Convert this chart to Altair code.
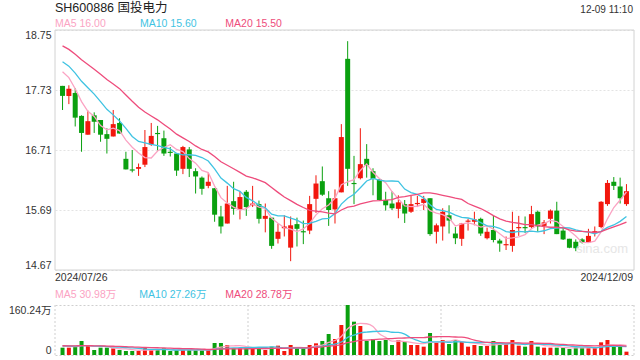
import altair as alt
import pandas as pd

FONT = "Liberation Sans, Noto Sans CJK SC, sans-serif"
RED = "#f2170d"
GREEN = "#0aa00f"
C_MA5 = "#fba3c3"
C_MA10 = "#3fc3e2"
C_MA20 = "#ee4c7c"

title_text = "SH600886 国投电力"
time_text = "12-09 11:10"
date_labels = ["2024/07/26", "2024/12/09"]
price_legend = ["MA5 16.00", "MA10 15.60", "MA20 15.50"]
vol_legend = ["MA5 30.98万", "MA10 27.26万", "MA20 28.78万"]
price_ticks = [14.67, 15.69, 16.71, 17.73, 18.75]
vol_ticks = [0, 160.24]

opens = [17.80, 17.63, 17.68, 17.29, 16.97, 17.30, 17.22, 16.98, 16.94, 17.17,
         16.56, 16.38, 16.39, 16.46, 16.80, 17.00, 16.91, 16.68, 16.65, 16.39,
         16.72, 16.35, 16.24, 16.10, 16.06, 15.58, 15.46, 15.84, 15.70, 16.00,
         15.77, 15.79, 15.54, 15.56, 15.20, 15.38, 15.05, 15.45, 15.33, 15.34,
         15.88, 16.18, 15.89, 15.70, 15.99, 18.26, 16.15, 16.23, 16.56, 16.35,
         16.21, 15.86, 15.80, 15.71, 15.79, 15.66, 15.79, 15.81, 15.89, 15.32,
         15.41, 15.60, 15.29, 15.20, 15.49, 15.49, 15.54, 15.21, 15.35, 15.17,
         15.09, 15.08, 15.38, 15.40, 15.40, 15.66, 15.42, 15.54, 15.68, 15.34,
         15.20, 15.15, 15.19, 15.14, 15.31, 15.40, 15.79, 16.17, 16.09, 15.79]
highs = [17.80, 17.81, 17.76, 17.30, 17.38, 17.35, 17.22, 17.08, 17.39, 17.25,
         16.68, 16.71, 16.48, 17.05, 17.17, 17.12, 17.04, 16.76, 16.66, 16.78,
         16.76, 16.40, 16.26, 16.32, 16.06, 15.76, 16.10, 16.17, 16.01, 16.03,
         16.10, 15.85, 15.80, 15.56, 15.46, 15.60, 15.58, 15.56, 15.51, 15.93,
         16.28, 16.43, 16.01, 16.04, 17.15, 18.56, 16.61, 17.08, 16.81, 16.40,
         16.21, 16.00, 16.01, 15.94, 15.86, 15.93, 15.93, 15.93, 15.89, 15.46,
         15.72, 15.77, 15.40, 15.47, 15.54, 15.66, 15.56, 15.39, 15.59, 15.20,
         15.24, 15.66, 15.59, 15.58, 15.76, 15.68, 15.52, 15.70, 15.83, 15.40,
         15.20, 15.19, 15.21, 15.37, 15.41, 15.84, 16.20, 16.25, 16.24, 16.13]
lows = [17.39, 17.49, 17.11, 16.68, 16.97, 17.00, 16.85, 16.65, 16.94, 16.99,
        16.38, 16.33, 16.27, 16.42, 16.78, 16.70, 16.61, 16.60, 16.27, 16.30,
        16.25, 15.97, 15.95, 16.06, 15.49, 15.29, 15.46, 15.61, 15.53, 15.59,
        15.74, 15.46, 15.31, 15.03, 15.12, 15.24, 14.82, 15.07, 15.11, 15.28,
        15.64, 15.93, 15.42, 15.46, 15.99, 16.10, 15.79, 16.21, 16.24, 15.94,
        15.85, 15.68, 15.69, 15.55, 15.47, 15.64, 15.74, 15.69, 15.25, 15.12,
        15.17, 15.29, 15.11, 15.08, 15.34, 15.43, 15.25, 15.19, 15.14, 14.98,
        15.01, 14.98, 15.25, 15.30, 15.38, 15.32, 15.28, 15.46, 15.28, 15.18,
        15.04, 14.99, 15.12, 15.14, 15.24, 15.38, 15.76, 16.03, 15.80, 15.76]
closes = [17.63, 17.75, 17.26, 17.00, 17.20, 17.19, 16.97, 16.90, 17.15, 16.99,
          16.38, 16.36, 16.42, 16.76, 16.95, 16.98, 16.65, 16.66, 16.36, 16.76,
          16.39, 16.26, 16.05, 16.17, 15.61, 15.41, 15.80, 15.71, 15.91, 15.74,
          15.80, 15.54, 15.59, 15.08, 15.32, 15.41, 15.43, 15.37, 15.31, 15.79,
          16.14, 15.95, 15.69, 15.89, 16.93, 16.39, 16.13, 16.47, 16.45, 16.22,
          15.86, 15.77, 15.72, 15.82, 15.63, 15.79, 15.81, 15.88, 15.28, 15.43,
          15.66, 15.51, 15.21, 15.46, 15.51, 15.53, 15.29, 15.32, 15.18, 15.12,
          15.11, 15.35, 15.40, 15.38, 15.62, 15.41, 15.48, 15.68, 15.28, 15.19,
          15.05, 15.04, 15.14, 15.25, 15.33, 15.83, 16.15, 16.10, 15.89, 16.01]
# volume in 万 (10k shares)
volumes = [23.5, 23.5, 28.8, 44.9, 28.8, 16.0, 23.5, 23.5, 21.4, 16.0,
           12.8, 12.8, 12.8, 23.5, 16.0, 16.0, 21.4, 12.8, 16.0, 16.0,
           16.0, 16.0, 16.0, 16.0, 38.4, 38.4, 32.0, 21.4, 21.4, 21.4,
           21.4, 21.4, 16.0, 26.7, 29.9, 12.8, 32.0, 21.4, 21.4, 32.0,
           37.4, 44.9, 67.3, 51.3, 96.1, 160.24, 106.8, 92.9, 44.9, 51.3,
           44.9, 48.1, 32.0, 48.1, 42.7, 32.0, 32.0, 26.7, 70.5, 40.6,
           48.1, 35.2, 48.1, 42.7, 26.7, 32.0, 28.8, 28.8, 44.9, 34.2,
           36.3, 48.1, 29.9, 26.7, 44.9, 26.7, 23.5, 23.5, 23.5, 23.5,
           19.2, 23.5, 23.5, 23.5, 23.5, 40.6, 48.1, 26.7, 26.7, 10.7]
# estimated sessions before the window (needed for the moving averages)
prior_closes = [18.95, 18.90, 18.88, 18.80, 18.78, 18.72, 18.68, 18.64, 18.60, 18.55,
                18.50, 18.45, 18.38, 18.30, 18.27, 18.25, 18.20, 18.10, 18.02]
prior_volumes = [31, 28, 33, 30, 27, 29, 35, 32, 26, 30,
                 28, 31, 34, 29, 27, 30, 33, 28, 30]

n = len(closes)
fc = pd.Series(prior_closes + closes)
fv = pd.Series(prior_volumes + volumes)
df = pd.DataFrame({
    "i": list(range(1, n + 1)),
    "o": opens, "h": highs, "l": lows, "c": closes, "v": volumes,
})
for w in (5, 10, 20):
    df[f"ma{w}"] = fc.rolling(w).mean().iloc[-n:].values
    df[f"vma{w}"] = fv.rolling(w).mean().iloc[-n:].values
df["up"] = df["c"] >= df["o"]

W, H = 579, 325
xsc = alt.Scale(domain=[0.6, 90.4], nice=False, zero=False)
psc = alt.Scale(domain=[14.67, 18.75], range=[240, 0], nice=False, zero=False)
vsc = alt.Scale(domain=[0, 160.24], range=[325, 275], nice=False, zero=False)
X = alt.X("i:Q", scale=xsc, axis=None)
col = alt.condition("datum.up", alt.value(RED), alt.value(GREEN))

base = alt.Chart(df)

price_axis = alt.Axis(values=price_ticks, format=".2f", grid=True, gridDash=[2, 2],
                      gridColor="#e3e3e3", ticks=False, domain=False, labelFlush=True,
                      labelPadding=4, labelFontSize=10.5, labelColor="#333",
                      labelFont=FONT, title=None)
wick = base.mark_rule(strokeWidth=1).encode(
    x=X, y=alt.Y("l:Q", scale=psc, axis=price_axis), y2="h:Q", color=col)
body = base.mark_bar(size=5).encode(
    x=X, y=alt.Y("o:Q", scale=psc), y2="c:Q", color=col)
plines = [
    base.mark_line(color=cc, strokeWidth=1.3).encode(x=X, y=alt.Y(f"{f}:Q", scale=psc))
    for f, cc in (("ma5", C_MA5), ("ma10", C_MA10), ("ma20", C_MA20))
]
one = pd.DataFrame({"a": [0]})
pframe = alt.Chart(one).mark_rect(fillOpacity=0, stroke="#d2d2d2", strokeWidth=1).encode(
    x=alt.value(0), x2=alt.value(W), y=alt.datum(18.75), y2=alt.datum(14.67))
price = alt.layer(wick, body, *plines, pframe)

vol_axis = alt.Axis(values=vol_ticks, orient="left", grid=True, gridDash=[2, 2],
                    gridColor="#cfcfcf", ticks=False, domain=False, labelFlush=True,
                    labelPadding=4, labelFontSize=10.5, labelColor="#333", labelFont=FONT,
                    labelExpr="datum.value == 0 ? '0' : format(datum.value, '.2f') + '万'",
                    title=None)
vbars = base.mark_bar(size=4).encode(
    x=X, y=alt.Y("v:Q", scale=vsc, axis=vol_axis), y2=alt.datum(0), color=col)
vlines = [
    base.mark_line(color=cc, strokeWidth=1.3, interpolate="monotone").encode(
        x=X, y=alt.Y(f"{f}:Q", scale=vsc))
    for f, cc in (("vma5", C_MA5), ("vma10", C_MA10), ("vma20", C_MA20))
]
vrules = [
    alt.Chart(one).mark_rule(color="#cfcfcf", strokeDash=[2, 2], strokeWidth=1).encode(
        x=alt.value(xx), y=alt.datum(0), y2=alt.datum(160.24))
    for xx in (0, W / 3, 2 * W / 3, W)
]
volume = alt.layer(*vrules, vbars, *vlines)


def txt(s, x, y, color="#333", size=10.5, align="left"):
    return alt.Chart(pd.DataFrame({"t": [s]})).mark_text(
        align=align, baseline="middle", font=FONT, fontSize=size, color=color
    ).encode(text="t:N", x=alt.value(x), y=alt.value(y))


texts = [
    txt(title_text, 0, -22, color="#222", size=12.5),
    txt(time_text, W - 1, -20.5, size=10),
    txt(price_legend[0], 0, -6, color=C_MA5),
    txt(price_legend[1], 85, -6, color=C_MA10),
    txt(price_legend[2], 170.3, -6, color=C_MA20),
    txt(date_labels[0], 0, 248),
    txt(date_labels[1], W - 1, 248, align="right"),
    txt(vol_legend[0], 0, 265, color=C_MA5),
    txt(vol_legend[1], 84.3, 265, color=C_MA10),
    txt(vol_legend[2], 170.3, 265, color=C_MA20),
    txt("sina.com", 547, 219, color="#e6e6e6", size=13, align="center"),
]
texts[1] = txt(time_text, W - 1, -20.5, size=10, align="right")

chart = alt.layer(price, volume, *texts).resolve_scale(y="independent").properties(
    width=W, height=H,
    autosize=alt.AutoSizeParams(type="none"),
    padding={"left": 55, "top": 30, "right": 6, "bottom": 5},
    background="white",
).configure_view(stroke=None)

chart.save("out.html", embed_options={"renderer": "svg", "actions": False})
